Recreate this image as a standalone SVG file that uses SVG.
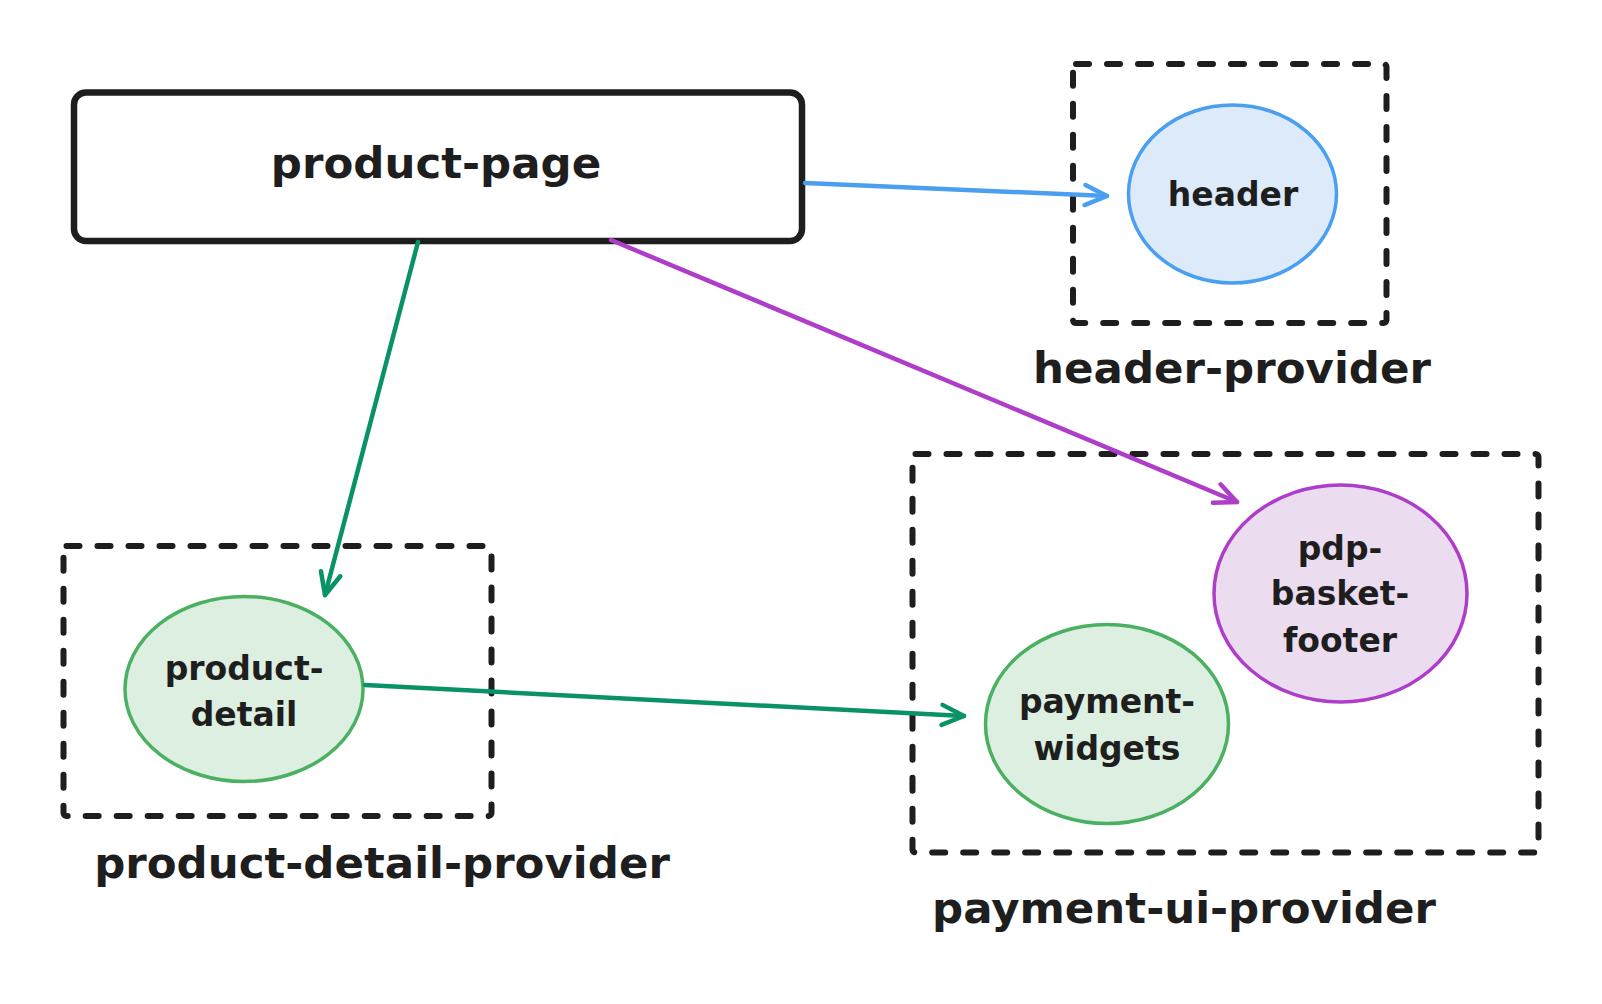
<svg xmlns="http://www.w3.org/2000/svg" width="1602" height="1004" viewBox="0 0 1602 1004">
<style>
  .lbl { font-family: "DejaVu Sans", "Liberation Sans", sans-serif; font-weight: bold; fill: #1e1e1e; text-anchor: middle; }
  .big { font-size: 43.5px; }
  .node { font-size: 33px; }
  .group { fill: none; stroke: #1e1e1e; stroke-width: 6; stroke-dasharray: 13 18; stroke-linecap: round; stroke-linejoin: round; }
  .arrow { fill: none; stroke-width: 4.5; stroke-linecap: round; }
</style>
<defs>
  <marker id="ah-blue" markerUnits="userSpaceOnUse" markerWidth="40" markerHeight="40" viewBox="-30 -20 40 40" refX="0" refY="0" orient="auto" overflow="visible">
    <path d="M-22,-10 L0,0 L-22,10" fill="none" stroke="#4a9ff0" stroke-width="4.5" stroke-linecap="round" stroke-linejoin="round"/>
  </marker>
  <marker id="ah-green" markerUnits="userSpaceOnUse" markerWidth="40" markerHeight="40" viewBox="-30 -20 40 40" refX="0" refY="0" orient="auto" overflow="visible">
    <path d="M-22,-10 L0,0 L-22,10" fill="none" stroke="#099268" stroke-width="4.5" stroke-linecap="round" stroke-linejoin="round"/>
  </marker>
  <marker id="ah-purple" markerUnits="userSpaceOnUse" markerWidth="40" markerHeight="40" viewBox="-30 -20 40 40" refX="0" refY="0" orient="auto" overflow="visible">
    <path d="M-22,-10 L0,0 L-22,10" fill="none" stroke="#ae3ec9" stroke-width="4.5" stroke-linecap="round" stroke-linejoin="round"/>
  </marker>
</defs>
<rect width="1602" height="1004" fill="#ffffff"/>

<g id="header-provider">
  <rect class="group" x="1073" y="64" width="313.5" height="259" rx="3"/>
  <text class="lbl big" x="1232" y="383">header-provider</text>
</g>
<g id="product-detail-provider">
  <rect class="group" x="63.5" y="546" width="428" height="270" rx="3"/>
  <text class="lbl big" x="382" y="878">product-detail-provider</text>
</g>
<g id="payment-ui-provider">
  <rect class="group" x="912.5" y="454" width="626" height="398.5" rx="3"/>
  <text class="lbl big" x="1184" y="923">payment-ui-provider</text>
</g>

<g id="product-page">
  <rect x="74" y="92.5" width="728" height="148.5" rx="12" fill="#ffffff" stroke="#1e1e1e" stroke-width="6.5"/>
  <text class="lbl big" x="436" y="178">product-page</text>
</g>
<g id="header">
  <ellipse cx="1232.5" cy="194" rx="104" ry="89" fill="#dceafa" stroke="#4a9ff0" stroke-width="3.5"/>
  <text class="lbl node" x="1233" y="206">header</text>
</g>
<g id="product-detail">
  <ellipse cx="244" cy="689" rx="119" ry="92.5" fill="#dcefe0" stroke="#4bb061" stroke-width="3.5"/>
  <text class="lbl node" x="244" y="680">product-</text>
  <text class="lbl node" x="244" y="726">detail</text>
</g>
<g id="payment-widgets">
  <ellipse cx="1107" cy="724" rx="121.5" ry="99.5" fill="#dcefe0" stroke="#4bb061" stroke-width="3.5"/>
  <text class="lbl node" x="1107" y="713">payment-</text>
  <text class="lbl node" x="1107" y="760">widgets</text>
</g>
<g id="pdp-basket-footer">
  <ellipse cx="1340.5" cy="593.5" rx="126.5" ry="108.5" fill="#ebdcf0" stroke="#ae3ec9" stroke-width="3.5"/>
  <text class="lbl node" x="1340" y="560">pdp-</text>
  <text class="lbl node" x="1340" y="605">basket-</text>
  <text class="lbl node" x="1340" y="652">footer</text>
</g>

<g id="connectors">
  <path class="arrow" d="M805,183 L1107,196" stroke="#4a9ff0" marker-end="url(#ah-blue)"/>
  <path class="arrow" d="M418,242 L325,595" stroke="#099268" marker-end="url(#ah-green)"/>
  <path class="arrow" d="M611,240 L1237,502" stroke="#ae3ec9" marker-end="url(#ah-purple)"/>
  <path class="arrow" d="M365,685 L964,716" stroke="#099268" marker-end="url(#ah-green)"/>
</g>
</svg>
